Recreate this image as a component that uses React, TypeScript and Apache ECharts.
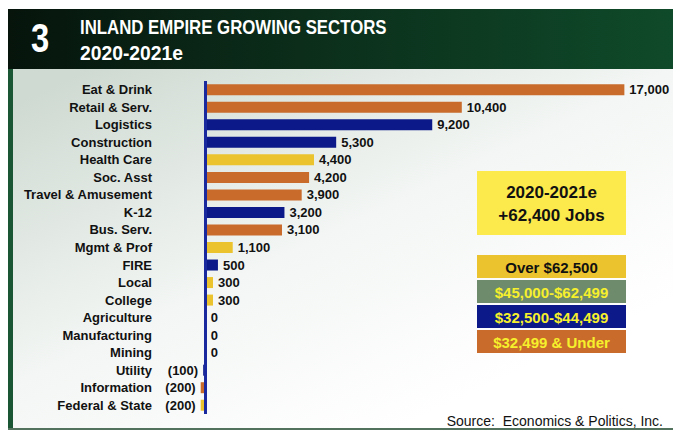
import React, { useEffect, useRef } from "react";
import * as echarts from "echarts";

const categories = [
  "Eat & Drink",
  "Retail & Serv.",
  "Logistics",
  "Construction",
  "Health Care",
  "Soc. Asst",
  "Travel & Amusement",
  "K-12",
  "Bus. Serv.",
  "Mgmt & Prof",
  "FIRE",
  "Local",
  "College",
  "Agriculture",
  "Manufacturing",
  "Mining",
  "Utility",
  "Information",
  "Federal & State",
];
const values = [17000, 10400, 9200, 5300, 4400, 4200, 3900, 3200, 3100, 1100, 500, 300, 300, 0, 0, 0, -100, -200, -200];
// wage tier index: 0 = Over $62,500, 1 = $45,000-$62,499, 2 = $32,500-$44,499, 3 = $32,499 & Under
const tiers = [3, 3, 2, 2, 0, 3, 3, 2, 3, 0, 2, 0, 0, 2, 2, 2, 2, 3, 0];
const tierLabels = ["Over $62,500", "$45,000-$62,499", "$32,500-$44,499", "$32,499 & Under"];
const tierColors = ["#ebc32e", "#6e8b6b", "#0b1a88", "#c96b2b"];
const tierTextColors = ["#111111", "#f6f02c", "#f6f02c", "#f6f02c"];
const summaryLines = ["2020-2021e", "+62,400 Jobs"];
const titleNumber = "3";
const titleLines = ["INLAND EMPIRE GROWING SECTORS", "2020-2021e"];
const sourceText = "Source:  Economics & Politics, Inc.";

const FONT = '"Liberation Sans", Arial, sans-serif';

function fmt(v: number): string {
  if (v < 0) return "(" + Math.abs(v).toLocaleString("en-US") + ")";
  return v.toLocaleString("en-US");
}

export default function App() {
  const ref = useRef<HTMLDivElement>(null);
  useEffect(() => {
    if (!ref.current) return;
    const chart = echarts.init(ref.current, null, { renderer: "svg" });
    const legendEls: any[] = [];
    tierLabels.forEach((lab, i) => {
      const y = 255 + i * 25;
      legendEls.push({
        type: "rect",
        z: 50,
        shape: { x: 477, y, width: 149, height: 23 },
        style: { fill: tierColors[i] },
      });
      legendEls.push({
        type: "text",
        z: 51,
        x: 551.5,
        y: y + 12,
        style: {
          text: lab,
          fill: tierTextColors[i],
          font: `bold 15px ${FONT}`,
          textAlign: "center",
          textVerticalAlign: "middle",
        },
      });
    });

    const option: any = {
      animation: false,
      backgroundColor: "#ffffff",
      grid: { left: 181, top: 81, width: 468, height: 333, containLabel: false },
      xAxis: {
        type: "value",
        min: -1000,
        max: 18000,
        show: false,
        splitLine: { show: false },
      },
      yAxis: {
        type: "category",
        inverse: true,
        data: categories,
        axisLine: { show: false, onZero: false },
        axisTick: { show: false },
        splitLine: { show: false },
        axisLabel: {
          margin: 29,
          color: "#111111",
          fontWeight: "bold",
          fontSize: 13,
          fontFamily: FONT,
        },
      },
      series: [
        {
          type: "bar",
          barWidth: 11,
          z: 3,
          data: values.map((v, i) => ({
            value: v,
            itemStyle: { color: tierColors[tiers[i]] },
            label: { position: v < 0 ? "left" : "right" },
          })),
          label: {
            show: true,
            distance: 5,
            color: "#111111",
            fontWeight: "bold",
            fontSize: 13,
            fontFamily: FONT,
            formatter: (p: any) => fmt(p.value),
          },
          markLine: {
            silent: true,
            symbol: "none",
            z: 5,
            label: { show: false },
            lineStyle: { color: "#1a2a9e", width: 3, type: "solid" },
            data: [{ xAxis: 0 }],
          },
        },
      ],
      graphic: {
        elements: [
          {
            type: "rect",
            z: -10,
            shape: { x: 13, y: 69, width: 660, height: 360 },
            style: {
              fill: new echarts.graphic.LinearGradient(0, 0.1, 0.7, 0.9, [
                { offset: 0, color: "#cfdad2" },
                { offset: 0.55, color: "#f3f6f4" },
                { offset: 1, color: "#ffffff" },
              ]),
            },
          },
          {
            type: "rect",
            z: 40,
            shape: { x: 8, y: 9, width: 665, height: 60 },
            style: {
              fill: new echarts.graphic.LinearGradient(0, 0, 1, 0, [
                { offset: 0, color: "#06140c" },
                { offset: 0.3, color: "#0a2616" },
                { offset: 1, color: "#0f4a2a" },
              ]),
            },
          },
          {
            type: "rect",
            z: 40,
            shape: { x: 8, y: 69, width: 5, height: 361 },
            style: { fill: "#1b5634" },
          },
          {
            type: "rect",
            z: 40,
            shape: { x: 8, y: 428, width: 665, height: 2 },
            style: { fill: "#52725e" },
          },
          {
            type: "text",
            z: 41,
            x: 31,
            y: 38,
            scaleX: 0.82,
            style: {
              text: titleNumber,
              fill: "#ffffff",
              font: `bold 40px ${FONT}`,
              textAlign: "left",
              textVerticalAlign: "middle",
            },
          },
          {
            type: "text",
            z: 41,
            x: 80,
            y: 27,
            scaleX: 0.8,
            style: {
              text: titleLines[0],
              fill: "#ffffff",
              font: `bold 21px ${FONT}`,
              textAlign: "left",
              textVerticalAlign: "middle",
            },
          },
          {
            type: "text",
            z: 41,
            x: 80,
            y: 53,
            scaleX: 0.92,
            style: {
              text: titleLines[1],
              fill: "#ffffff",
              font: `bold 21px ${FONT}`,
              textAlign: "left",
              textVerticalAlign: "middle",
            },
          },
          {
            type: "rect",
            z: 50,
            shape: { x: 477, y: 171, width: 149, height: 64 },
            style: { fill: "#fce94b" },
          },
          {
            type: "text",
            z: 51,
            x: 551.5,
            y: 192,
            style: {
              text: summaryLines[0],
              fill: "#111111",
              font: `bold 17px ${FONT}`,
              textAlign: "center",
              textVerticalAlign: "middle",
            },
          },
          {
            type: "text",
            z: 51,
            x: 551.5,
            y: 215,
            style: {
              text: summaryLines[1],
              fill: "#111111",
              font: `bold 17px ${FONT}`,
              textAlign: "center",
              textVerticalAlign: "middle",
            },
          },
          ...legendEls,
          {
            type: "text",
            z: 51,
            x: 663,
            y: 421,
            style: {
              text: sourceText,
              fill: "#111111",
              font: `14px ${FONT}`,
              textAlign: "right",
              textVerticalAlign: "middle",
            },
          },
        ],
      },
    };
    chart.setOption(option);
    return () => chart.dispose();
  }, []);
  return (
    <div
      ref={ref}
      style={{ position: "fixed", left: 0, top: 0, width: 673, height: 432 }}
    />
  );
}
